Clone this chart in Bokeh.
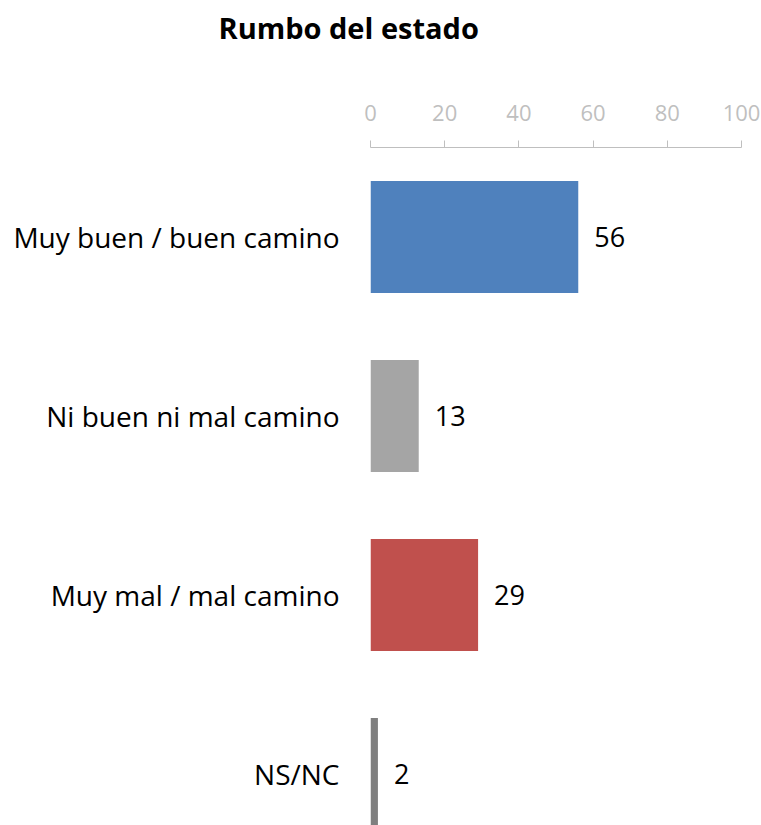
from bokeh.plotting import figure
from bokeh.models import Range1d, FixedTicker, ColumnDataSource, Title
from bokeh.core.properties import value
from bokeh.embed import file_html
from bokeh.resources import INLINE

categories = ["Muy buen / buen camino", "Ni buen ni mal camino", "Muy mal / mal camino", "NS/NC"]
values = [56, 13, 29, 2]
colors = ["#4F81BD", "#A5A5A5", "#C0504D", "#7F7F7F"]
x_ticks = [0, 20, 40, 60, 80, 100]

FONT = "Open Sans"
positions = [i + 0.5 for i in range(len(categories))]

src = ColumnDataSource(dict(y=positions, v=values, c=colors, lab=[str(v) for v in values]))

p = figure(width=761, height=825, output_backend="svg", toolbar_location=None,
           x_range=Range1d(0, 100), y_range=Range1d(3.788, 0),
           x_axis_location="above", min_border_left=370, min_border_right=20,
           min_border_top=147, min_border_bottom=0)
p.title = None
p.add_layout(Title(text="Rumbo del estado", align="left", offset=-152, standoff=10,
                   text_font=FONT, text_font_size="29px", text_font_style="bold",
                   text_color="black"), "above")

p.hbar(y="y", right="v", left=0, height=0.626, fill_color="c", line_color=None, source=src)
p.text(x="v", y="y", text="lab", source=src, x_offset=16, text_baseline="middle",
       text_align="left", text_font=value(FONT), text_font_size="27px", text_color="black")

xa = p.xaxis[0]
xa.ticker = FixedTicker(ticks=x_ticks)
xa.axis_line_color = "#BFBFBF"
xa.major_tick_line_color = "#BFBFBF"
xa.major_tick_out = 7
xa.major_tick_in = 0
xa.minor_tick_line_color = None
xa.major_label_text_font = FONT
xa.major_label_text_font_size = "22px"
xa.major_label_text_color = "#BFBFBF"
xa.major_label_standoff = 20
xa.axis_label = " "
xa.axis_label_text_font_size = "10px"
xa.axis_label_standoff = 36

ya = p.yaxis[0]
ya.ticker = FixedTicker(ticks=positions)
ya.major_label_overrides = {pos: c for pos, c in zip(positions, categories)}
ya.axis_line_color = None
ya.major_tick_line_color = None
ya.minor_tick_line_color = None
ya.major_label_text_font = FONT
ya.major_label_text_font_size = "28px"
ya.major_label_text_color = "black"
ya.major_label_standoff = 25

p.xgrid.grid_line_color = None
p.ygrid.grid_line_color = None
p.outline_line_color = None

open("out.html", "w").write(file_html(p, INLINE))
